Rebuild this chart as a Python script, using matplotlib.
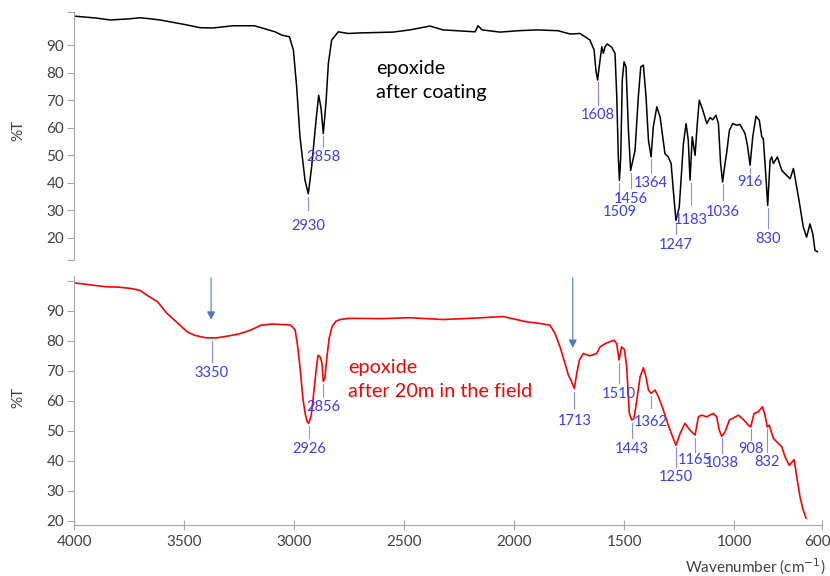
import numpy as np
import matplotlib.pyplot as plt
from matplotlib.transforms import ScaledTranslation

plt.rcParams['font.family'] = ['Lato', 'DejaVu Sans']

# spectrum 1: epoxide after coating (wavenumber, %T)
wn_coat = [4000, 3900, 3836, 3750, 3700, 3650, 3609, 3500, 3427, 3368, 3277, 3180,
           3086, 3056, 3021, 3003, 2988, 2973, 2950, 2935, 2920, 2900, 2888, 2877,
           2867, 2855, 2844, 2829, 2799, 2753, 2700, 2550, 2473, 2382, 2323, 2177,
           2164, 2145, 2064, 1980, 1895, 1800, 1745, 1700, 1655, 1636, 1628, 1620,
           1613, 1601, 1594, 1586, 1576, 1556, 1541, 1533, 1526, 1521, 1515, 1508,
           1500, 1491, 1480, 1470, 1460, 1450, 1435, 1424, 1412, 1400, 1389, 1377,
           1367, 1351, 1336, 1314, 1299, 1286, 1276, 1264, 1249, 1230, 1218, 1208,
           1200, 1190, 1177, 1167, 1158, 1142, 1124, 1109, 1097, 1082, 1071, 1061,
           1052, 1041, 1033, 1021, 1006, 988, 973, 950, 939, 927, 915, 900,
           885, 874, 867, 855, 847, 836, 829, 821, 803, 783, 761, 745,
           730, 707, 685, 670, 655, 642, 632, 621]
t_coat = [100.5, 99.8, 99.1, 99.5, 99.9, 99.5, 99.1, 97.5, 96.3, 96.2, 97.0, 97.0,
          94.8, 93.6, 93.0, 88.2, 74.8, 56.7, 40.9, 36.0, 45.8, 62.7, 71.8, 67.0,
          57.9, 68.8, 83.3, 91.8, 94.8, 94.2, 94.4, 94.7, 95.5, 96.9, 95.5, 94.8,
          97.0, 95.5, 94.7, 95.2, 95.5, 95.2, 94.0, 94.2, 91.8, 88.2, 80.9, 77.3,
          82.1, 89.4, 87.0, 89.4, 90.4, 89.2, 87.0, 71.2, 49.4, 40.9, 49.4, 77.3,
          83.9, 82.1, 59.1, 44.5, 48.2, 51.8, 71.2, 82.1, 82.7, 71.2, 55.5, 49.4,
          60.3, 67.6, 63.9, 50.6, 49.4, 47.0, 37.3, 26.4, 31.2, 54.3, 61.5, 55.5,
          41.0, 56.7, 50.0, 61.5, 70.0, 66.4, 61.5, 63.7, 62.9, 64.5, 61.5, 47.0,
          40.3, 47.0, 51.2, 59.1, 61.5, 60.9, 61.2, 57.9, 53.6, 46.4, 56.7, 64.2,
          62.7, 56.7, 56.1, 42.1, 31.8, 48.2, 49.4, 47.0, 49.4, 44.5, 42.7, 41.5,
          45.2, 34.8, 23.9, 20.3, 25.1, 21.5, 15.5, 15.0]

# spectrum 2: epoxide after 20 months in the field
wn_field = [4000, 3950, 3900, 3850, 3800, 3745, 3700, 3668, 3620, 3577, 3530, 3486,
            3450, 3400, 3350, 3300, 3250, 3200, 3150, 3100, 3050, 3018, 3005, 2995,
            2985, 2973, 2960, 2950, 2940, 2933, 2922, 2914, 2900, 2891, 2880, 2873,
            2867, 2860, 2850, 2840, 2827, 2810, 2791, 2750, 2600, 2473, 2323, 2168,
            2050, 1941, 1882, 1836, 1814, 1791, 1773, 1753, 1738, 1726, 1715, 1703,
            1685, 1655, 1624, 1609, 1579, 1545, 1533, 1523, 1511, 1498, 1488, 1476,
            1465, 1455, 1442, 1427, 1412, 1400, 1389, 1377, 1359, 1344, 1321, 1299,
            1279, 1264, 1245, 1223, 1200, 1177, 1162, 1147, 1124, 1094, 1079, 1067,
            1056, 1041, 1021, 980, 958, 935, 924, 909, 890, 871, 859, 849,
            840, 821, 799, 783, 768, 749, 727, 715, 700, 688, 673]
t_field = [99.3, 98.9, 98.4, 98.0, 97.9, 97.5, 96.8, 95.2, 93.0, 89.1, 86.0, 83.0,
           81.8, 81.0, 81.0, 81.6, 82.3, 83.5, 85.2, 85.6, 85.4, 85.3, 84.5, 83.6,
           79.0, 71.3, 61.0, 56.0, 53.0, 52.5, 55.0, 60.2, 70.0, 75.2, 74.5, 72.5,
           66.5, 67.5, 75.0, 81.0, 84.7, 86.5, 87.1, 87.5, 87.4, 87.7, 87.1, 87.6,
           88.1, 86.3, 85.8, 85.2, 82.5, 78.0, 73.6, 68.6, 66.3, 64.1, 69.1, 73.6,
           75.8, 75.0, 75.8, 78.0, 79.3, 80.2, 79.0, 73.6, 78.0, 77.1, 71.3, 55.8,
           53.6, 54.1, 60.2, 68.0, 71.0, 68.0, 63.6, 62.5, 63.6, 61.4, 56.9, 51.9,
           48.0, 45.2, 49.1, 52.5, 50.2, 48.6, 54.7, 55.2, 54.7, 55.8, 54.7, 50.2,
           48.2, 49.6, 53.6, 55.2, 53.8, 51.9, 51.3, 55.8, 56.3, 58.0, 55.2, 51.3,
           51.9, 47.5, 45.8, 44.7, 41.3, 38.5, 40.4, 34.7, 28.0, 24.2, 20.9]

# peak labels: text, x, peak y, line end y, text y
lab_coat = ['2930', '2858', '1608', '1509', '1456', '1364', '1247', '1183', '1036', '916', '830']
lx_coat = [2935, 2867, 1620, 1521, 1470, 1377, 1264, 1196, 1052, 927, 847]
ly_coat = [35.5, 57.5, 77.0, 40.5, 44.0, 49.0, 26.0, 40.5, 40.0, 46.0, 31.5]
le_coat = [30.0, 53.0, 68.2, 33.6, 38.0, 43.5, 21.6, 32.0, 33.6, 43.5, 23.5]
ty_coat = [24.5, 49.3, 64.5, 29.6, 34.3, 39.8, 17.3, 26.4, 29.6, 40.2, 19.8]

lab_field = ['3350', '2926', '2856', '1713', '1510', '1443', '1362', '1250', '1165', '1038', '908', '832']
lx_field = [3373, 2933, 2867, 1726, 1523, 1463, 1377, 1264, 1177, 1056, 924, 849]
ly_field = [80.5, 52.0, 66.0, 63.5, 73.0, 53.0, 62.0, 45.0, 48.0, 48.0, 51.0, 51.0]
le_field = [72.9, 47.6, 61.2, 57.6, 65.9, 47.6, 57.6, 37.9, 42.9, 42.6, 46.9, 42.9]
ty_field = [69.2, 43.9, 57.9, 53.2, 62.2, 43.9, 53.0, 34.7, 40.2, 39.3, 43.9, 39.7]

arrow_x = [3377, 1733]
arrow_tip = [87.0, 77.6]

blue_txt = '#3b3bff'
blue_line = '#8c8cff'
grey = '#a6a6a6'
tick_col = '#404040'

fig = plt.figure(figsize=(8.3, 5.76), dpi=100)
ax1 = fig.add_axes([0.0892, 0.5486, 0.9012, 0.4306])
ax2 = fig.add_axes([0.0892, 0.0885, 0.9012, 0.4323])

ax1.plot(wn_coat, t_coat, color='black', lw=1.1)
ax2.plot(wn_field, t_field, color='red', lw=1.2)

for ax, ylim, ticks in [(ax1, (12, 102), [12, 20, 30, 40, 50, 60, 70, 80, 90, 102]),
                        (ax2, (18.6, 101.6), [20, 30, 40, 50, 60, 70, 80, 90, 100])]:
    ax.set_xlim(4000, 600)
    ax.set_ylim(*ylim)
    ax.set_yticks(ticks)
    ax.set_yticklabels([str(t) if 20 <= t <= 90 else '' for t in ticks])
    for s in ['top', 'right']:
        ax.spines[s].set_visible(False)
    ax.spines['left'].set_color(grey)
    ax.spines['bottom'].set_color(grey)
    ax.tick_params(axis='y', colors=grey, labelcolor=tick_col, labelsize=11, length=5, pad=2)

ax1.spines['bottom'].set_visible(False)
ax1.set_xticks([])
ax2.set_xticks([4000, 3500, 3000, 2500, 2000, 1500, 1000, 600])
ax2.set_xticklabels(['4000', '3500', '3000', '2500', '2000', '1500', '1000', '600'])
ax2.tick_params(axis='x', colors=grey, labelcolor=tick_col, labelsize=11,
                direction='inout', length=7, pad=4)
# the last label sits a little left of its tick, as in the original
last = ax2.get_xticklabels()[-1]
last.set_transform(last.get_transform() + ScaledTranslation(-0.05, 0, fig.dpi_scale_trans))

def label_peaks(ax, labs, xs, ys, ends, tys):
    for lab, x, y, e, ty in zip(labs, xs, ys, ends, tys):
        ax.plot([x, x], [y - 0.5, e], color=blue_line, lw=0.8)
        ax.text(x, ty, lab, color=blue_txt, fontsize=10.5, ha='center', va='center')

label_peaks(ax1, lab_coat, lx_coat, ly_coat, le_coat, ty_coat)
label_peaks(ax2, lab_field, lx_field, ly_field, le_field, ty_field)

for x, tip in zip(arrow_x, arrow_tip):
    ax2.annotate('', xy=(x, tip), xytext=(x, 101),
                 arrowprops=dict(arrowstyle='-|>', color='#4a78c8', lw=0.8,
                                 mutation_scale=12, shrinkA=0, shrinkB=0))

ax1.text(2627, 77.3, 'epoxide\nafter coating', color='black', fontsize=14.3,
         ha='left', va='center', linespacing=1.5)
ax2.text(2755, 67.1, 'epoxide\nafter 20m in the field', color='red', fontsize=14.3,
         ha='left', va='center', linespacing=1.5)

fig.text(18 / 830, 1 - 130 / 576, '%T', color=tick_col, fontsize=11, rotation=90,
         ha='center', va='center')
fig.text(18 / 830, 1 - 397 / 576, '%T', color=tick_col, fontsize=11, rotation=90,
         ha='center', va='center')
fig.text(0.994, 1 - 567 / 576, 'Wavenumber (cm$^{-1}$)', color=tick_col, fontsize=11,
         ha='right', va='center')

fig.savefig('out.png', dpi=100)
